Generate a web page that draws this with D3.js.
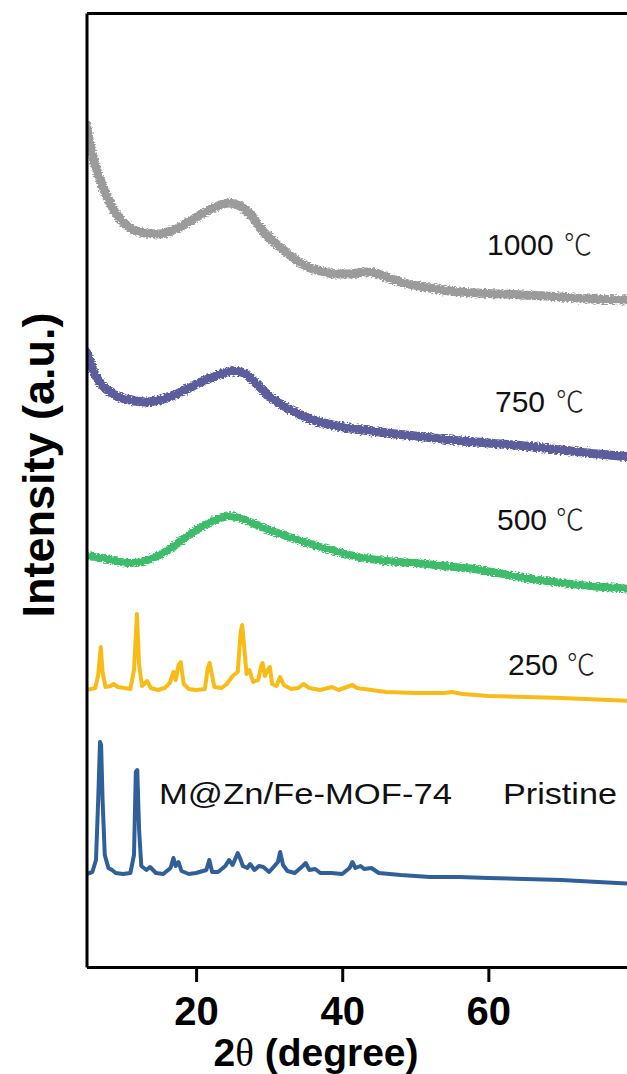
<!DOCTYPE html>
<html>
<head>
<meta charset="utf-8">
<script src="https://cdn.jsdelivr.net/npm/d3@7"></script>
<style>
  html, body { margin: 0; padding: 0; background: #fff; }
  svg { display: block; }
</style>
</head>
<body>
<svg id="chart" width="627" height="1074"></svg>
<script>
// XRD patterns of M@Zn/Fe-MOF-74 (pristine and calcined), stacked with offsets.
// Each series: [2θ (degree), intensity (a.u., offset included)]
const xTickValues = [20, 40, 60];

const pristine = [
  [5.0, 93], [5.8, 95], [6.3, 107], [6.6, 167], [6.85, 225], [7.0, 222], [7.2, 167], [7.5, 112],
  [8.0, 99], [8.5, 97], [9, 94], [10, 93], [11, 94], [11.5, 112], [11.75, 195], [11.95, 197],
  [12.2, 137], [12.5, 101], [13.2, 97], [13.7, 100], [14.5, 94], [15.5, 93], [16.5, 99], [16.9, 109],
  [17.2, 101], [17.6, 105], [18.0, 96], [19, 93], [20, 94], [21.4, 97], [21.8, 107], [22.2, 95],
  [23, 95], [24, 101], [24.5, 107], [25.0, 102], [25.7, 114], [26.0, 109], [26.4, 101], [27, 99],
  [27.4, 103], [28, 97], [28.6, 101], [29.2, 100], [30, 95], [31.2, 105], [31.5, 115], [31.9, 102],
  [32.5, 96], [33.5, 94], [34.6, 101], [35, 104], [35.5, 97], [36.3, 98], [37, 94], [38.5, 94],
  [40, 93], [41.0, 99], [41.4, 105], [41.8, 99], [42.5, 101], [43, 98], [44, 99], [45, 94],
  [48, 92], [52, 90], [56, 90], [60, 89], [65, 88], [70, 87], [75, 85], [80, 83]
];

const t250 = [
  [5.0, 277], [6.2, 279], [6.6, 292], [6.95, 320], [7.2, 295], [7.6, 280], [8.3, 281], [8.7, 283],
  [9.3, 280], [10.2, 279], [11.0, 278], [11.5, 297], [11.9, 353], [12.2, 302], [12.6, 281], [13.3, 286],
  [13.8, 279], [14.8, 277], [15.7, 279], [16.4, 284], [16.9, 295], [17.2, 287], [17.6, 302], [17.9, 305],
  [18.3, 283], [19, 278], [20, 277], [21.2, 278], [21.6, 299], [21.85, 304], [22.1, 295], [22.5, 280],
  [23.5, 279], [24.2, 283], [25.0, 291], [25.7, 295], [26.1, 335], [26.3, 342], [26.5, 327], [26.9, 293],
  [27.3, 297], [27.8, 285], [28.5, 287], [28.9, 301], [29.1, 304], [29.4, 291], [29.8, 297], [30.1, 300],
  [30.4, 283], [31.0, 281], [31.5, 290], [32.0, 282], [33, 278], [34.0, 279], [34.7, 283], [35.5, 279],
  [37, 277], [38.6, 280], [39.5, 277], [41, 281], [41.4, 282], [42, 279], [44, 277], [46, 275],
  [50, 274], [54, 274], [55, 275], [56.5, 273], [60, 271], [70, 269], [80, 266]
];

const t500 = [
  [5, 411], [7, 409], [9, 406], [11, 404], [13, 406], [15, 412], [17, 421], [19, 432], [21, 441],
  [23, 448], [24.5, 451], [26, 449], [28, 443], [30, 437], [32, 432], [34, 427], [37, 420], [40, 414],
  [43, 409], [46, 406], [50, 404], [54, 401], [58, 398], [62, 393], [66, 388], [70, 384], [74, 381], [80, 378]
];

const t750 = [
  [5.0, 615], [5.5, 605], [6.2, 592], [7, 583], [8, 576], [9.5, 570], [11, 567], [13, 565], [15, 567],
  [17, 572], [19, 579], [21, 586], [23, 592], [25, 596], [26.5, 594], [28, 585], [30, 571], [32, 561],
  [34, 553], [36, 547], [38, 543], [41, 539], [45, 535], [50, 531], [55, 527], [60, 524], [65, 521],
  [70, 517], [75, 513], [80, 510]
];

const t1000 = [
  [5.0, 842], [5.5, 822], [6.2, 802], [7, 785], [8, 767], [9.5, 749], [11, 739], [13, 734], [15, 733],
  [17, 737], [19, 745], [21, 754], [23, 761], [24.5, 764], [26, 761], [27.5, 752], [29, 737], [31, 723],
  [33, 711], [35, 701], [37, 696], [39, 693], [41, 693], [43, 695], [44.5, 694], [46, 690], [48, 685],
  [52, 679], [56, 675], [62, 673], [68, 671], [74, 668], [80, 667]
];

const svg = d3.select("#chart");
const W = 627, H = 1074;
const mLeft = 86.5, mRight = 634.5, mTop = 13, mBottom = 967;

const x = d3.scaleLinear().domain([5, 80]).range([mLeft, mRight]);
const y = d3.scaleLinear().domain([0, 954]).range([mBottom, mTop]);

svg.append("rect").attr("width", W).attr("height", H).attr("fill", "#fff");

const defs = svg.append("defs");
defs.append("clipPath").attr("id", "plot")
  .append("rect").attr("x", mLeft).attr("y", mTop).attr("width", W - mLeft).attr("height", mBottom - mTop);

// grainy edge texture for the broad, noisy scans
const rough = defs.append("filter").attr("id", "grain")
  .attr("filterUnits", "userSpaceOnUse")
  .attr("x", 0).attr("y", 0).attr("width", W).attr("height", H);
rough.append("feTurbulence").attr("type", "fractalNoise")
  .attr("baseFrequency", "0.45 0.9").attr("numOctaves", 1).attr("seed", 7).attr("result", "n");
rough.append("feDisplacementMap").attr("in", "SourceGraphic").attr("in2", "n")
  .attr("scale", 6).attr("xChannelSelector", "R").attr("yChannelSelector", "G");

const plot = svg.append("g").attr("clip-path", "url(#plot)");

const sharp = d3.line().x(d => x(d[0])).y(d => y(d[1])).curve(d3.curveLinear);
const smooth = d3.line().x(d => x(d[0])).y(d => y(d[1])).curve(d3.curveMonotoneX);

const curves = [
  { data: t1000, color: "#9b9b9b", width: 9, gen: smooth, grain: true },
  { data: t750, color: "#5d5c9c", width: 9, gen: smooth, grain: true },
  { data: t500, color: "#3dbd6c", width: 8, gen: smooth, grain: true },
  { data: t250, color: "#f9bc17", width: 4, gen: sharp, grain: false },
  { data: pristine, color: "#30609a", width: 4, gen: sharp, grain: false }
];

curves.forEach(c => {
  const g = plot.append("g");
  if (c.grain) g.attr("filter", "url(#grain)");
  g.append("path")
    .attr("d", c.gen(c.data))
    .attr("fill", "none")
    .attr("stroke", c.color)
    .attr("stroke-width", c.width)
    .attr("stroke-linejoin", "round")
    .attr("stroke-linecap", "round");
});

// Axes: bottom with ticks, left and top as plain frame lines
const xAxis = d3.axisBottom(x).tickValues(xTickValues).tickSize(15).tickSizeOuter(0).tickPadding(15);
const gx = svg.append("g").attr("transform", `translate(0,${mBottom})`).call(xAxis);
gx.select(".domain").attr("stroke", "#000").attr("stroke-width", 3);
gx.selectAll(".tick line").attr("stroke", "#000").attr("stroke-width", 3);
gx.selectAll(".tick text")
  .attr("fill", "#000")
  .style("font-family", "'Liberation Sans', Arial, sans-serif")
  .style("font-weight", "bold")
  .style("font-size", "40px");

const gy = svg.append("g").attr("transform", `translate(${mLeft},0)`)
  .call(d3.axisLeft(y).tickValues([]).tickSizeOuter(0));
gy.select(".domain").attr("stroke", "#000").attr("stroke-width", 3);

const gt = svg.append("g").attr("transform", `translate(0,${mTop})`)
  .call(d3.axisTop(x).tickValues([]).tickSizeOuter(0));
gt.select(".domain").attr("stroke", "#000").attr("stroke-width", 3);

// Axis titles
const xt = svg.append("text")
  .attr("x", 316).attr("y", 1066)
  .attr("text-anchor", "middle")
  .style("font-family", "'Liberation Sans', Arial, sans-serif")
  .style("font-weight", "bold")
  .style("font-size", "39px")
  .attr("fill", "#000");
xt.append("tspan").text("2");
xt.append("tspan").text("θ").style("font-family", "'Liberation Serif', 'Times New Roman', serif").style("font-weight", "normal");
xt.append("tspan").text(" (degree)");

svg.append("text")
  .attr("transform", "translate(54,465) rotate(-90)")
  .attr("text-anchor", "middle")
  .style("font-family", "'Liberation Sans', Arial, sans-serif")
  .style("font-weight", "bold")
  .style("font-size", "45px")
  .attr("fill", "#000")
  .text("Intensity (a.u.)");

// Curve labels
const tempLabels = [
  { num: "1000", nx: 487, cx: 564, by: 255 },
  { num: "750", nx: 495, cx: 556, by: 412 },
  { num: "500", nx: 497, cx: 556, by: 530 },
  { num: "250", nx: 508, cx: 567, by: 675 }
];
const labelFont = "'Liberation Sans', Arial, sans-serif";
tempLabels.forEach(l => {
  svg.append("text").attr("x", l.nx).attr("y", l.by)
    .style("font-family", labelFont).style("font-size", "30px").attr("fill", "#111")
    .text(l.num);
  svg.append("text").attr("x", l.cx).attr("y", l.by)
    .style("font-family", "'Noto Sans CJK SC', 'DejaVu Sans', sans-serif")
    .style("font-size", "28px").style("font-weight", "300").attr("fill", "#222")
    .text("℃");
});

svg.append("text").attr("x", 159).attr("y", 804)
  .attr("textLength", 293).attr("lengthAdjust", "spacingAndGlyphs")
  .style("font-family", labelFont).style("font-size", "30px").attr("fill", "#111")
  .text("M@Zn/Fe-MOF-74");

svg.append("text").attr("x", 503).attr("y", 804)
  .attr("textLength", 114).attr("lengthAdjust", "spacingAndGlyphs")
  .style("font-family", labelFont).style("font-size", "30px").attr("fill", "#111")
  .text("Pristine");
</script>
</body>
</html>
